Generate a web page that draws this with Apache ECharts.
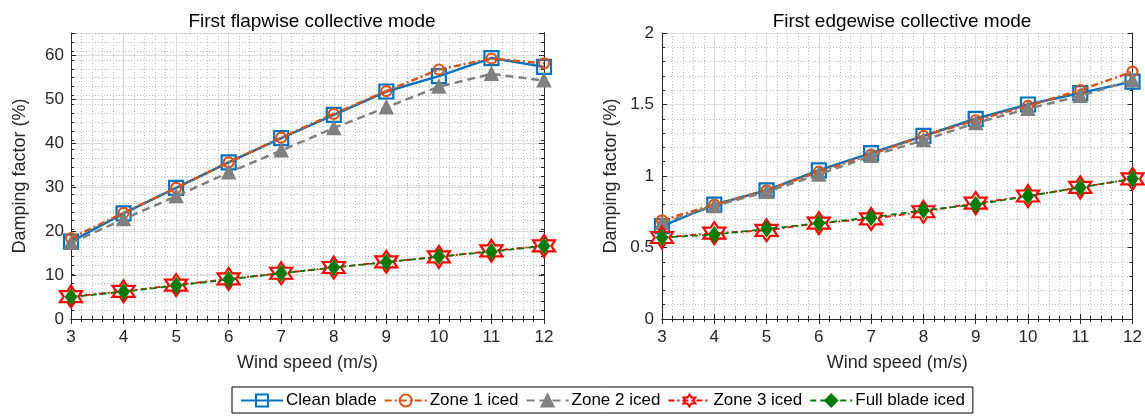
<!DOCTYPE html>
<html>
<head>
<meta charset="utf-8">
<script src="https://cdn.jsdelivr.net/npm/echarts@6/dist/echarts.min.js"></script>
<style>
  html, body { margin: 0; padding: 0; background: #fff; }
  #chart { width: 1145px; height: 416px; }
</style>
</head>
<body>
<div id="chart"></div>
<script>
// wind speed (m/s)
var windSpeed = [3, 4, 5, 6, 7, 8, 9, 10, 11, 12];

// first flapwise collective mode, damping (%)
var flapClean = [17.6, 24.0, 29.8, 35.6, 41.1, 46.4, 51.7, 55.2, 59.3, 57.3];
var flapZone1 = [18.4, 24.1, 29.8, 35.6, 41.2, 46.6, 51.8, 56.7, 59.2, 58.1];
var flapZone2 = [17.3, 22.7, 27.9, 33.3, 38.3, 43.4, 48.1, 52.8, 55.7, 54.2];
var flapZone3 = [5.1, 6.3, 7.7, 9.1, 10.4, 11.7, 13.0, 14.1, 15.5, 16.6];
var flapFull  = [5.0, 6.2, 7.6, 9.0, 10.4, 11.7, 12.9, 14.2, 15.3, 16.6];

// first edgewise collective mode, damping (%)
var edgeClean = [0.65, 0.80, 0.90, 1.04, 1.16, 1.28, 1.40, 1.50, 1.58, 1.66];
var edgeZone1 = [0.69, 0.80, 0.90, 1.03, 1.15, 1.28, 1.39, 1.49, 1.60, 1.73];
var edgeZone2 = [0.67, 0.79, 0.89, 1.01, 1.14, 1.25, 1.37, 1.47, 1.56, 1.67];
var edgeZone3 = [0.57, 0.60, 0.62, 0.67, 0.70, 0.75, 0.81, 0.86, 0.92, 0.98];
var edgeFull  = [0.57, 0.59, 0.63, 0.67, 0.71, 0.76, 0.80, 0.86, 0.92, 0.98];

var seriesNames = ['Clean blade', 'Zone 1 iced', 'Zone 2 iced', 'Zone 3 iced', 'Full blade iced'];
var panelTitles = ['First flapwise collective mode', 'First edgewise collective mode'];

var FONT = '"Liberation Sans", Arial, sans-serif';
var hexagram = 'path://M50 0 L64.43 25 L93.3 25 L78.87 50 L93.3 75 L64.43 75 L50 100 L35.57 75 L6.7 75 L21.13 50 L6.7 25 L35.57 25 Z';

// line + marker look of each case
var looks = [
  { color: '#0072BD', type: 'solid', symbol: 'rect', size: 14, fill: 'rgba(255,255,255,0)', width: 2.5 },
  { color: '#D95319', type: [7, 3, 2, 3], symbol: 'circle', size: 10, fill: 'rgba(255,255,255,0)', width: 2.5 },
  { color: '#808080', type: [8, 5], symbol: 'triangle', size: 12, fill: '#808080', width: 2.5 },
  { color: '#FF0000', type: [6, 3, 2, 3], symbol: hexagram, size: 22, fill: 'rgba(255,255,255,0)', width: 1.8 },
  { color: '#007A00', type: [6, 4], symbol: 'diamond', size: [10, 14], fill: '#007A00', width: 1.8 }
];

function makeSeries(i, values, xi, yi) {
  var lk = looks[i];
  return {
    name: seriesNames[i],
    type: 'line',
    xAxisIndex: xi,
    yAxisIndex: yi,
    data: windSpeed.map(function (x, k) { return [x, values[k]]; }),
    symbol: lk.symbol,
    symbolSize: lk.size,
    showAllSymbol: true,
    color: lk.color,
    lineStyle: { color: lk.color, width: lk.width, type: lk.type },
    itemStyle: { color: lk.fill, borderColor: lk.color, borderWidth: 2.2 },
    emphasis: { disabled: true },
    animation: false,
    z: 3 + i
  };
}

var majorSplit = { show: true, lineStyle: { color: '#dcdcdc', width: 1 } };
var minorSplit = { show: true, lineStyle: { color: '#bfbfbf', width: 1, type: [1, 2] } };
var blackLine = { show: true, lineStyle: { color: '#262626', width: 1 } };

function xAxes(gi) {
  return [
    {
      type: 'value', gridIndex: gi, position: 'bottom', min: 3, max: 12, interval: 1,
      name: 'Wind speed (m/s)', nameLocation: 'middle', nameGap: 35,
      nameTextStyle: { fontFamily: FONT, fontSize: 18, color: '#262626' },
      axisLine: blackLine,
      axisTick: { show: true, inside: true, length: 5, lineStyle: { color: '#262626' } },
      minorTick: { show: true, splitNumber: 5, length: 3, lineStyle: { color: '#262626' } },
      axisLabel: { fontFamily: FONT, fontSize: 17, color: '#262626', margin: 10 },
      splitLine: majorSplit,
      minorSplitLine: minorSplit
    },
    {
      type: 'value', gridIndex: gi, position: 'top', min: 3, max: 12, interval: 1,
      axisLine: blackLine,
      axisTick: { show: true, inside: true, length: 5, lineStyle: { color: '#262626' } },
      minorTick: { show: true, splitNumber: 5, length: 3, lineStyle: { color: '#262626' } },
      axisLabel: { show: false },
      splitLine: { show: false }
    }
  ];
}

function tickOnly(gi, pos, max, interval, len) {
  return {
    type: 'value', gridIndex: gi, position: pos, min: 0, max: max, interval: interval,
    axisLine: blackLine,
    axisTick: { show: true, inside: true, length: len, lineStyle: { color: '#262626' } },
    axisLabel: { show: false },
    splitLine: { show: false }
  };
}

var yName = {
  name: 'Damping factor (%)', nameLocation: 'middle', nameGap: 42,
  nameTextStyle: { fontFamily: FONT, fontSize: 18, color: '#262626' }
};

var yAxes = [
  // left panel: major axis with labels
  Object.assign({
    type: 'value', gridIndex: 0, position: 'left', min: 0, max: 65, interval: 10,
    axisLine: blackLine,
    axisTick: { show: true, inside: true, length: 5, lineStyle: { color: '#262626' } },
    axisLabel: {
      fontFamily: FONT, fontSize: 17, color: '#262626', margin: 7,
      formatter: function (v) { return v % 10 === 0 ? String(v) : ''; }
    },
    splitLine: majorSplit
  }, yName),
  // left panel: minor grid every 2
  {
    type: 'value', gridIndex: 0, position: 'left', min: 0, max: 64, interval: 2,
    axisLine: { show: false },
    axisTick: { show: true, inside: true, length: 3, lineStyle: { color: '#262626' } },
    axisLabel: { show: false },
    splitLine: minorSplit
  },
  tickOnly(0, 'right', 65, 10, 5),
  tickOnly(0, 'right', 64, 2, 3),
  // right panel
  Object.assign({
    type: 'value', gridIndex: 1, position: 'left', min: 0, max: 2, interval: 0.5,
    axisLine: blackLine,
    axisTick: { show: true, inside: true, length: 5, lineStyle: { color: '#262626' } },
    minorTick: { show: true, splitNumber: 5, length: 3, lineStyle: { color: '#262626' } },
    axisLabel: { fontFamily: FONT, fontSize: 17, color: '#262626', margin: 8 },
    splitLine: majorSplit,
    minorSplitLine: minorSplit
  }, yName),
  {
    type: 'value', gridIndex: 1, position: 'right', min: 0, max: 2, interval: 0.5,
    axisLine: blackLine,
    axisTick: { show: true, inside: true, length: 5, lineStyle: { color: '#262626' } },
    minorTick: { show: true, splitNumber: 5, length: 3, lineStyle: { color: '#262626' } },
    axisLabel: { show: false },
    splitLine: { show: false }
  }
];

var flapSets = [flapClean, flapZone1, flapZone2, flapZone3, flapFull];
var edgeSets = [edgeClean, edgeZone1, edgeZone2, edgeZone3, edgeFull];
var series = [];
flapSets.forEach(function (vals, i) { series.push(makeSeries(i, vals, 0, 0)); });
edgeSets.forEach(function (vals, i) { series.push(makeSeries(i, vals, 2, 4)); });

var chart = echarts.init(document.getElementById('chart'), null, { renderer: 'canvas' });
chart.setOption({
  backgroundColor: '#ffffff',
  animation: false,
  title: [
    { text: panelTitles[0], left: 307, top: 7, textAlign: 'center',
      textStyle: { fontFamily: FONT, fontSize: 19, fontWeight: 'normal', color: '#000' } },
    { text: panelTitles[1], left: 897, top: 7, textAlign: 'center',
      textStyle: { fontFamily: FONT, fontSize: 19, fontWeight: 'normal', color: '#000' } }
  ],
  grid: [
    { left: 71, top: 33, width: 473, height: 286 },
    { left: 662, top: 33, width: 471, height: 286 }
  ],
  legend: {
    data: seriesNames,
    left: 232, top: 387,
    orient: 'horizontal',
    itemWidth: 42, itemHeight: 15, itemGap: 7,
    padding: [5, 8, 4, 8],
    borderColor: '#000', borderWidth: 1,
    textStyle: { fontFamily: FONT, fontSize: 17, color: '#000', padding: [0, 0, 0, -2] },
    selectedMode: false
  },
  xAxis: xAxes(0).concat(xAxes(1)),
  yAxis: yAxes,
  series: series
});
</script>
</body>
</html>
